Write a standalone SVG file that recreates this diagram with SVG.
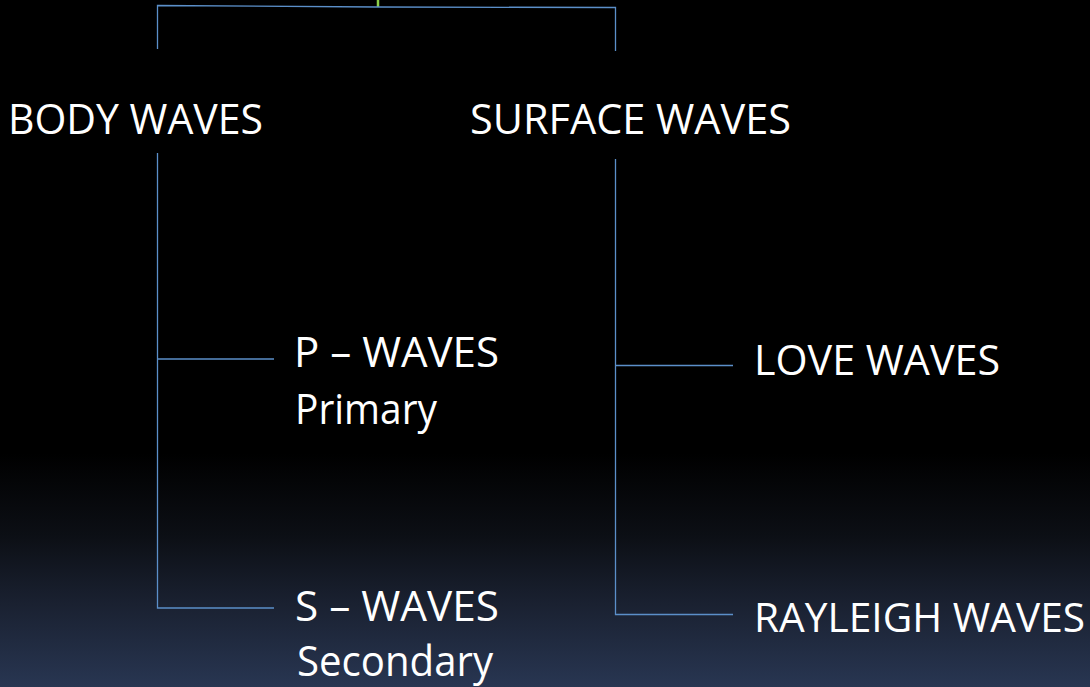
<svg xmlns="http://www.w3.org/2000/svg" width="1090" height="687" viewBox="0 0 1090 687">
<defs>
<linearGradient id="bg" x1="0" y1="0" x2="0" y2="1">
<stop offset="0" stop-color="#000000"/>
<stop offset="0.66" stop-color="#000000"/>
<stop offset="0.78" stop-color="#0c0f15"/>
<stop offset="0.88" stop-color="#1a2131"/>
<stop offset="1" stop-color="#283652"/>
</linearGradient>
<style>
.t{font-family:"Open Sans","Liberation Sans",sans-serif;font-size:42px;fill:#ffffff}
.c{stroke:#5b8fc9;stroke-width:1.3;fill:none}
</style>
</defs>
<rect width="1090" height="687" fill="url(#bg)"/>
<g id="connectors">
<line x1="378" y1="0" x2="378" y2="7" stroke="#8cd048" stroke-width="2.5"/>
<path class="c" d="M157.5 49 V5.5 L377 7 L615.5 7.5 V51"/>
<path class="c" d="M157.5 153 V608 H274 M157.5 359 H274"/>
<path class="c" d="M615.5 159 V614.5 H733 M615.5 365.5 H733"/>
</g>
<g id="body"><text class="t" x="8" y="134" textLength="255" lengthAdjust="spacingAndGlyphs">BODY WAVES</text></g>
<g id="surface"><text class="t" x="470" y="134" textLength="321" lengthAdjust="spacingAndGlyphs">SURFACE WAVES</text></g>
<g id="pwaves">
<text class="t" x="294" y="367" textLength="205" lengthAdjust="spacingAndGlyphs">P – WAVES</text>
<text class="t" x="295" y="424" textLength="142" lengthAdjust="spacingAndGlyphs">Primary</text>
</g>
<g id="swaves">
<text class="t" x="295" y="621" textLength="204" lengthAdjust="spacingAndGlyphs">S – WAVES</text>
<text class="t" x="297" y="676" textLength="196" lengthAdjust="spacingAndGlyphs">Secondary</text>
</g>
<g id="love"><text class="t" x="754" y="375" textLength="246" lengthAdjust="spacingAndGlyphs">LOVE WAVES</text></g>
<g id="rayleigh"><text class="t" x="754" y="632" font-size="40.5" style="font-size:40.5px" textLength="331" lengthAdjust="spacingAndGlyphs">RAYLEIGH WAVES</text></g>
</svg>
